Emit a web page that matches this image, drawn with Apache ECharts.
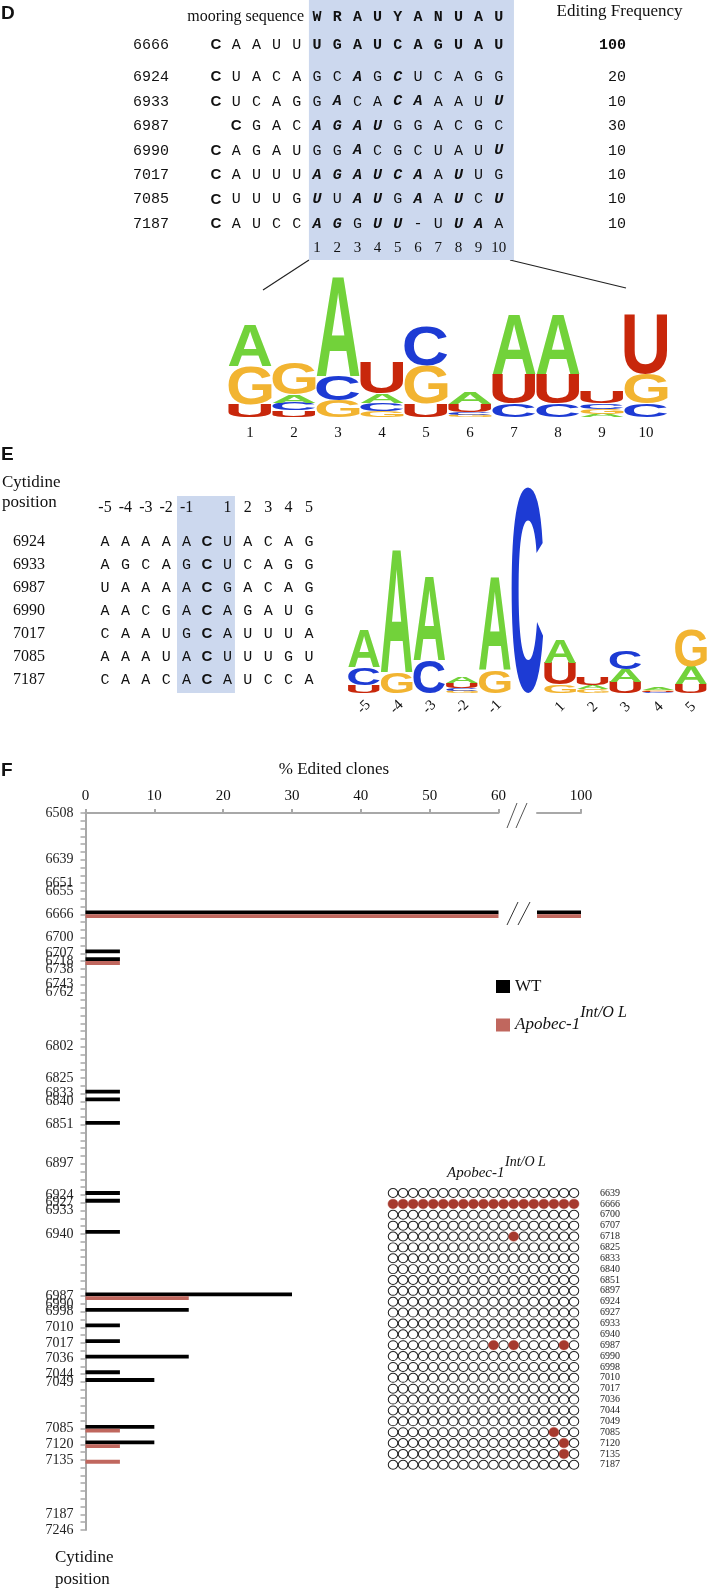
<!DOCTYPE html>
<html>
<head>
<meta charset="utf-8">
<title>Apobec-1 editing sites</title>
<script src="https://cdn.jsdelivr.net/npm/echarts@6/dist/echarts.min.js"></script>
<style>
  html, body { margin: 0; padding: 0; background: #fff; }
  #chart { width: 710px; height: 1590px; }
</style>
</head>
<body>
<div id="chart"></div>
<script>
// ---- D: alignment to the mooring sequence ----
var mooring = 'WRAUYANUAU';
var dPositions = ['6666', '6924', '6933', '6987', '6990', '7017', '7085', '7187'];
var dSequences = [
  'CAAUUUGAUCAGUAU',
  'CUACAGCAGCUCAGG',
  'CUCAGGACACAAAUU',
  ' CGACAGAUGGACGC',
  'CAGAUGGACGCUAUU',
  'CAUUUAGAUCAAUUG',
  'CUUUGUUAUGAAUCU',
  'CAUCCAGGUU-UUAA'
];
// positions (1..10) that fit the mooring sequence
var dMatches = [
  [1, 2, 3, 4, 5, 6, 7, 8, 9, 10],
  [3, 5],
  [2, 5, 6, 10],
  [1, 2, 3, 4],
  [3, 10],
  [1, 2, 3, 4, 5, 6, 8],
  [1, 3, 4, 6, 8, 10],
  [1, 2, 4, 5, 8, 9]
];
var dFrequency = [100, 20, 10, 30, 10, 10, 10, 10];

// D logo, bits per letter
var dLogoPos = ['1', '2', '3', '4', '5', '6', '7', '8', '9', '10'];
var dLogoA = [0.55, 0.11, 1.33, 0.12, 0, 0.15, 0.79, 0.79, 0.045, 0];
var dLogoC = [0, 0.10, 0.33, 0.11, 0.53, 0.04, 0.18, 0.18, 0.07, 0.18];
var dLogoG = [0.51, 0.42, 0.22, 0.08, 0.50, 0.03, 0, 0, 0.065, 0.40];
var dLogoU = [0.17, 0.09, 0, 0.42, 0.18, 0.10, 0.40, 0.40, 0.16, 0.80];

// ---- E: context of the edited cytidine ----
var eRelPos = ['-5', '-4', '-3', '-2', '-1', '', '1', '2', '3', '4', '5'];
var ePositions = ['6924', '6933', '6987', '6990', '7017', '7085', '7187'];
var eSequences = [
  'AAAAACUACAG',
  'AGCAGCUCAGG',
  'UAAAACGACAG',
  'AACGACAGAUG',
  'CAAUGCAUUUA',
  'AAAUACUUUGU',
  'CAACACAUCCA'
];
var eLogoA = [0.36, 1.20, 0.82, 0.06, 0.91, 0, 0.23, 0.04, 0.12, 0.02, 0.17];
var eLogoC = [0.17, 0, 0.32, 0.03, 0, 2.0, 0, 0, 0.18, 0.01, 0];
var eLogoG = [0, 0.20, 0, 0.02, 0.22, 0, 0.08, 0.035, 0, 0.012, 0.36];
var eLogoU = [0.08, 0, 0, 0.045, 0, 0, 0.21, 0.07, 0.11, 0.011, 0.09];

// ---- F: % edited clones per cytidine ----
var slotCount = 93;
var tickLabels = ['6508', '6639', '6651', '6655', '6666', '6700', '6707', '6718', '6738', '6743', '6762',
  '6802', '6825', '6833', '6840', '6851', '6897', '6924', '6927', '6933', '6940', '6987', '6990', '6998',
  '7010', '7017', '7036', '7044', '7049', '7085', '7120', '7135', '7187', '7246'];
var tickSlots = [0, 6, 9, 10, 13, 16, 18, 19, 20, 22, 23, 30, 34, 36, 37, 40, 45, 49, 50, 51, 54, 62, 63, 64,
  66, 68, 70, 72, 73, 79, 81, 83, 90, 92];
var wtSites = ['6666', '6707', '6718', '6833', '6840', '6851', '6924', '6927', '6940', '6987', '6998', '7010',
  '7017', '7036', '7044', '7049', '7085', '7120'];
var wtPercent = [100, 5, 5, 5, 5, 5, 5, 5, 5, 30, 15, 5, 5, 15, 5, 10, 10, 10];
var apoSites = ['6666', '6718', '6987', '7085', '7120', '7135'];
var apoPercent = [100, 5, 15, 5, 5, 5];

var cloneSites = ['6639', '6666', '6700', '6707', '6718', '6825', '6833', '6840', '6851', '6897', '6924', '6927',
  '6933', '6940', '6987', '6990', '6998', '7010', '7017', '7036', '7044', '7049', '7085', '7120', '7135', '7187'];
var cloneCount = 19;
var editedClones = [
  [], [0, 1, 2, 3, 4, 5, 6, 7, 8, 9, 10, 11, 12, 13, 14, 15, 16, 17, 18], [], [], [12], [], [], [], [], [],
  [], [], [], [], [10, 12, 17], [], [], [], [], [], [], [], [16], [17], [17], []
];

// ---- helpers ----
var SERIF = '"Liberation Serif"';
var MONO = '"Liberation Mono"';
var SANS = '"Liberation Sans"';
var nucColor = { A: '#72d23a', C: '#1d3bd4', G: '#f2b431', U: '#c8270b' };
var LOGO_FONT = 'bold 100px ' + SANS;

var measureCtx = document.createElement('canvas').getContext('2d');
var glyphCache = {};
function glyphBox(ch) {
  if (!glyphCache[ch]) {
    measureCtx.font = LOGO_FONT;
    measureCtx.textAlign = 'center';
    measureCtx.textBaseline = 'middle';
    var m = measureCtx.measureText(ch);
    glyphCache[ch] = { l: m.actualBoundingBoxLeft, r: m.actualBoundingBoxRight,
      a: m.actualBoundingBoxAscent, d: m.actualBoundingBoxDescent };
  }
  return glyphCache[ch];
}
// stretch one letter into the box x0..x1, yTop..yBot
function glyph(ch, x0, x1, yTop, yBot) {
  var g = glyphBox(ch);
  var sx = (x1 - x0) / (g.l + g.r);
  var sy = (yBot - yTop) / (g.a + g.d);
  return {
    type: 'text', x: x0 + g.l * sx, y: yBot - g.d * sy, scaleX: sx, scaleY: sy,
    style: { text: ch, fill: nucColor[ch], font: LOGO_FONT,
      textAlign: 'center', textVerticalAlign: 'middle', align: 'center', verticalAlign: 'middle' }
  };
}

function logoSeries(idx, A, C, G, U, ratio) {
  return {
    type: 'custom', xAxisIndex: idx, yAxisIndex: idx, silent: true, z: 3,
    data: A.map(function (a, i) { return [i, a, C[i], G[i], U[i]]; }),
    encode: { x: 0, y: 1 },
    renderItem: function (params, api) {
      var i = api.value(0);
      var stack = [['A', api.value(1)], ['C', api.value(2)], ['G', api.value(3)], ['U', api.value(4)]]
        .filter(function (s) { return s[1] > 0; })
        .sort(function (a, b) { return a[1] - b[1]; });
      var w = api.size([1, 0])[0] * ratio;
      var cx = api.coord([i, 0])[0];
      var base = 0, children = [];
      stack.forEach(function (s) {
        var yb = api.coord([i, base])[1];
        base += s[1];
        var yt = api.coord([i, base])[1];
        children.push(glyph(s[0], cx - w / 2, cx + w / 2, yt, yb));
      });
      return { type: 'group', children: children };
    }
  };
}

function cellSeries(idx, cells) {
  return {
    type: 'custom', xAxisIndex: idx, yAxisIndex: idx, silent: true, z: 3,
    data: cells.map(function (c) { return [c.x, c.y]; }),
    encode: { x: 0, y: 1 },
    renderItem: function (params, api) {
      var c = cells[params.dataIndex];
      var p = api.coord([c.x, c.y]);
      var al = c.align || 'center';
      return {
        type: 'text', x: p[0], y: p[1],
        style: { text: c.text, fill: '#111', font: c.font,
          textAlign: al, textVerticalAlign: 'middle', align: al, verticalAlign: 'middle' }
      };
    }
  };
}

function boxSeries(idx, rect) {
  return {
    type: 'custom', xAxisIndex: idx, yAxisIndex: idx, silent: true, z: 1,
    data: [rect],
    renderItem: function (params, api) {
      var p0 = api.coord([api.value(0), api.value(1)]);
      var p1 = api.coord([api.value(2), api.value(3)]);
      return { type: 'rect', shape: { x: p0[0], y: p0[1], width: p1[0] - p0[0], height: p1[1] - p0[1] },
        style: { fill: '#ccd8ee' } };
    }
  };
}

// D table cells
var dCells = [];
dCells.push({ x: 4.36, y: -1.14, text: 'mooring sequence', font: '16px ' + SERIF, align: 'right' });
dCells.push({ x: 23.1, y: -1.35, text: 'Editing Frequency', font: '17px ' + SERIF, align: 'right' });
mooring.split('').forEach(function (ch, k) {
  dCells.push({ x: 5 + k, y: -1.14, text: ch, font: 'bold 15px ' + MONO });
});
dPositions.forEach(function (pos, r) {
  var y = r === 0 ? 0 : r + 0.31;
  dCells.push({ x: -3.22, y: y, text: pos, font: '15px ' + MONO });
  var seenC = false;
  dSequences[r].split('').forEach(function (ch, i) {
    if (ch === ' ') return;
    var font = '15px ' + MONO;
    if (!seenC) { font = 'bold 15px ' + SANS; seenC = true; }
    else if (i >= 5 && dMatches[r].indexOf(i - 4) >= 0) {
      font = (r === 0 ? 'bold 15px ' : 'italic bold 15px ') + MONO;
    }
    dCells.push({ x: i, y: y, text: ch, font: font });
  });
  dCells.push({ x: 20.3, y: y, text: String(dFrequency[r]), font: (r === 0 ? 'bold ' : '') + '15px ' + MONO, align: 'right' });
});
dLogoPos.forEach(function (p, k) {
  dCells.push({ x: 5 + k, y: 8.29, text: p, font: '15px ' + SERIF });
});

// E table cells
var eCells = [];
eCells.push({ x: -5.05, y: -2.57, text: 'Cytidine', font: '17px ' + SERIF, align: 'left' });
eCells.push({ x: -5.05, y: -1.70, text: 'position', font: '17px ' + SERIF, align: 'left' });
eRelPos.forEach(function (p, k) {
  if (p) eCells.push({ x: k, y: -1.48, text: p, font: '16px ' + SERIF });
});
ePositions.forEach(function (pos, r) {
  eCells.push({ x: -3.73, y: r, text: pos, font: '16px ' + SERIF });
  eSequences[r].split('').forEach(function (ch, i) {
    eCells.push({ x: i, y: r, text: ch, font: i === 5 ? 'bold 15px ' + SANS : '15px ' + MONO });
  });
});

// F bars on a slotted category axis
var slotNames = [];
for (var s = 0; s < slotCount; s++) slotNames.push('#' + s);
tickLabels.forEach(function (t, k) { slotNames[tickSlots[k]] = t; });
function barData(sites, values) {
  var arr = [];
  for (var i = 0; i < slotCount; i++) arr.push('-');
  sites.forEach(function (site, k) { arr[slotNames.indexOf(site)] = values[k]; });
  return arr;
}
var wtData = barData(wtSites, wtPercent);
var apoData = barData(apoSites, apoPercent);

// clone matrix
var cloneIdx = [];
for (var c = 0; c < cloneCount; c++) cloneIdx.push(String(c + 1));
var uneditedDots = [], editedDots = [];
cloneSites.forEach(function (site, r) {
  for (var c = 0; c < cloneCount; c++) {
    (editedClones[r].indexOf(c) >= 0 ? editedDots : uneditedDots).push([c, r]);
  }
});

var GRAY = '#a8a8a8';
var WT_COLOR = '#000000';
var APO_COLOR = '#c0675e';
var BAR_W = 3.8;

function txt(x, y, text, font, align) {
  return { type: 'text', x: x, y: y, silent: true,
    style: { text: text, font: font, fill: '#111', textAlign: align || 'left', textVerticalAlign: 'middle',
      align: align || 'left', verticalAlign: 'middle' } };
}
function seg(x1, y1, x2, y2, color, w) {
  return { type: 'line', silent: true, shape: { x1: x1, y1: y1, x2: x2, y2: y2 },
    style: { stroke: color || '#222', lineWidth: w || 1.2 } };
}

var chart = echarts.init(document.getElementById('chart'));
var option = {
  animation: false,
  textStyle: { fontFamily: SERIF },
  grid: [
    { left: 205.9, top: 0, width: 303, height: 260, outerBoundsMode: 'none' },
    { left: 228, top: 267, width: 440, height: 150, outerBoundsMode: 'none' },
    { left: 94.8, top: 473, width: 224.4, height: 230, outerBoundsMode: 'none' },
    { left: 347.6, top: 487, width: 359.7, height: 206, outerBoundsMode: 'none' },
    { left: 85.5, top: 813, width: 413, height: 717, outerBoundsMode: 'none' },
    { left: 537, top: 813, width: 44, height: 717, outerBoundsMode: 'none' },
    { left: 388, top: 1187.6, width: 191, height: 282.6, outerBoundsMode: 'none' }
  ],
  xAxis: [
    { gridIndex: 0, type: 'value', min: -0.5, max: 14.5, show: false },
    { gridIndex: 1, type: 'category', data: dLogoPos, axisLine: { show: false }, axisTick: { show: false },
      axisLabel: { interval: 0, margin: 9, fontFamily: SERIF, fontSize: 15, color: '#111' } },
    { gridIndex: 2, type: 'value', min: -0.5, max: 10.5, show: false },
    { gridIndex: 3, type: 'category', data: eRelPos, axisLine: { show: false }, axisTick: { show: false },
      axisLabel: { interval: 0, rotate: 45, margin: 14, align: 'center', verticalAlign: 'middle',
        fontFamily: SERIF, fontSize: 15, color: '#111' } },
    { gridIndex: 4, type: 'value', position: 'top', min: 0, max: 60, interval: 10,
      axisLine: { show: true, lineStyle: { color: GRAY, width: 2 } },
      axisTick: { show: true, length: 4, lineStyle: { color: GRAY, width: 2 } },
      axisLabel: { margin: 9, fontFamily: SERIF, fontSize: 15, color: '#111' },
      splitLine: { show: false } },
    { gridIndex: 5, type: 'value', position: 'top', min: 95, max: 100,
      axisLine: { show: true, lineStyle: { color: GRAY, width: 2 } },
      axisTick: { show: true, length: 4, customValues: [100], lineStyle: { color: GRAY, width: 2 } },
      axisLabel: { margin: 9, customValues: [100], fontFamily: SERIF, fontSize: 15, color: '#111' },
      splitLine: { show: false } },
    { gridIndex: 6, type: 'category', data: cloneIdx, show: false }
  ],
  yAxis: [
    { gridIndex: 0, type: 'value', inverse: true, min: -1.84, max: 8.78, show: false },
    { gridIndex: 1, type: 'value', min: 0, max: 2, show: false },
    { gridIndex: 2, type: 'value', inverse: true, min: -3, max: 7, show: false },
    { gridIndex: 3, type: 'value', min: 0, max: 2, show: false },
    { gridIndex: 4, type: 'category', inverse: true, boundaryGap: false, data: slotNames,
      axisLine: { show: true, lineStyle: { color: GRAY, width: 2 } },
      axisTick: { show: true, interval: 0, length: 5, lineStyle: { color: GRAY, width: 1.5 } },
      axisLabel: { interval: 0, margin: 12, fontFamily: SERIF, fontSize: 14, color: '#222',
        formatter: function (v) { return v.charAt(0) === '#' ? '' : v; } } },
    { gridIndex: 5, type: 'category', inverse: true, boundaryGap: false, data: slotNames, show: false },
    { gridIndex: 6, type: 'category', inverse: true, data: cloneSites, position: 'right',
      axisLine: { show: false }, axisTick: { show: false },
      axisLabel: { interval: 0, margin: 21, fontFamily: SERIF, fontSize: 10, color: '#222' } }
  ],
  legend: {
    data: ['WT', 'Apobec-1'], orient: 'vertical', left: 491, top: 973,
    itemWidth: 14, itemHeight: 13, itemGap: 10, icon: 'rect', selectedMode: false,
    formatter: function (n) { return n === 'WT' ? '{n|WT}' : '{i|Apobec-1}{s|Int/O L}'; },
    textStyle: { color: '#111', rich: {
      n: { fontFamily: SERIF, fontSize: 17, color: '#111' },
      i: { fontFamily: SERIF, fontSize: 17, fontStyle: 'italic', color: '#111' },
      s: { fontFamily: SERIF, fontSize: 16, fontStyle: 'italic', color: '#111', padding: [0, 0, 24, 0] }
    } }
  },
  graphic: [
    txt(1, 14, 'D', 'bold 19px ' + SANS),
    txt(1, 455, 'E', 'bold 19px ' + SANS),
    txt(1, 771, 'F', 'bold 19px ' + SANS),
    seg(309, 260, 263, 290),
    seg(510, 260, 626, 288),
    txt(334, 770, '% Edited clones', '17px ' + SERIF, 'center'),
    txt(55, 1558, 'Cytidine', '17px ' + SERIF),
    txt(55, 1580, 'position', '17px ' + SERIF),
    txt(447, 1173, 'Apobec-1', 'italic 15px ' + SERIF),
    txt(505, 1162, 'Int/O L', 'italic 14px ' + SERIF),
    seg(507, 828, 517, 803, '#555', 1),
    seg(516, 828, 527, 803, '#555', 1),
    seg(507, 925, 518, 902, '#333', 1),
    seg(518, 925, 530, 902, '#333', 1)
  ],
  series: [
    boxSeries(0, [4.6, -1.84, 14.75, 8.78]),
    cellSeries(0, dCells),
    logoSeries(1, dLogoA, dLogoC, dLogoG, dLogoU, 0.98),
    boxSeries(2, [3.53, -2.0, 6.37, 6.57]),
    cellSeries(2, eCells),
    logoSeries(3, eLogoA, eLogoC, eLogoG, eLogoU, 0.97),
    { name: 'WT', type: 'bar', xAxisIndex: 4, yAxisIndex: 4, data: wtData, barWidth: BAR_W, barGap: '0%',
      itemStyle: { color: WT_COLOR }, silent: true },
    { name: 'Apobec-1', type: 'bar', xAxisIndex: 4, yAxisIndex: 4, data: apoData, barWidth: BAR_W, barGap: '0%',
      itemStyle: { color: APO_COLOR }, silent: true },
    { name: 'WT', type: 'bar', xAxisIndex: 5, yAxisIndex: 5, data: wtData, barWidth: BAR_W, barGap: '0%',
      itemStyle: { color: WT_COLOR }, silent: true },
    { name: 'Apobec-1', type: 'bar', xAxisIndex: 5, yAxisIndex: 5, data: apoData, barWidth: BAR_W, barGap: '0%',
      itemStyle: { color: APO_COLOR }, silent: true },
    { name: 'unedited', type: 'scatter', xAxisIndex: 6, yAxisIndex: 6, data: uneditedDots, symbolSize: [9.5, 9],
      itemStyle: { color: '#fff', borderColor: '#222', borderWidth: 1, opacity: 1 }, silent: true },
    { name: 'edited', type: 'scatter', xAxisIndex: 6, yAxisIndex: 6, data: editedDots, symbolSize: [10, 9.5],
      itemStyle: { color: '#a63a2e', borderColor: '#a63a2e', borderWidth: 0.5, opacity: 1 }, silent: true }
  ]
};
chart.setOption(option);
</script>
</body>
</html>
